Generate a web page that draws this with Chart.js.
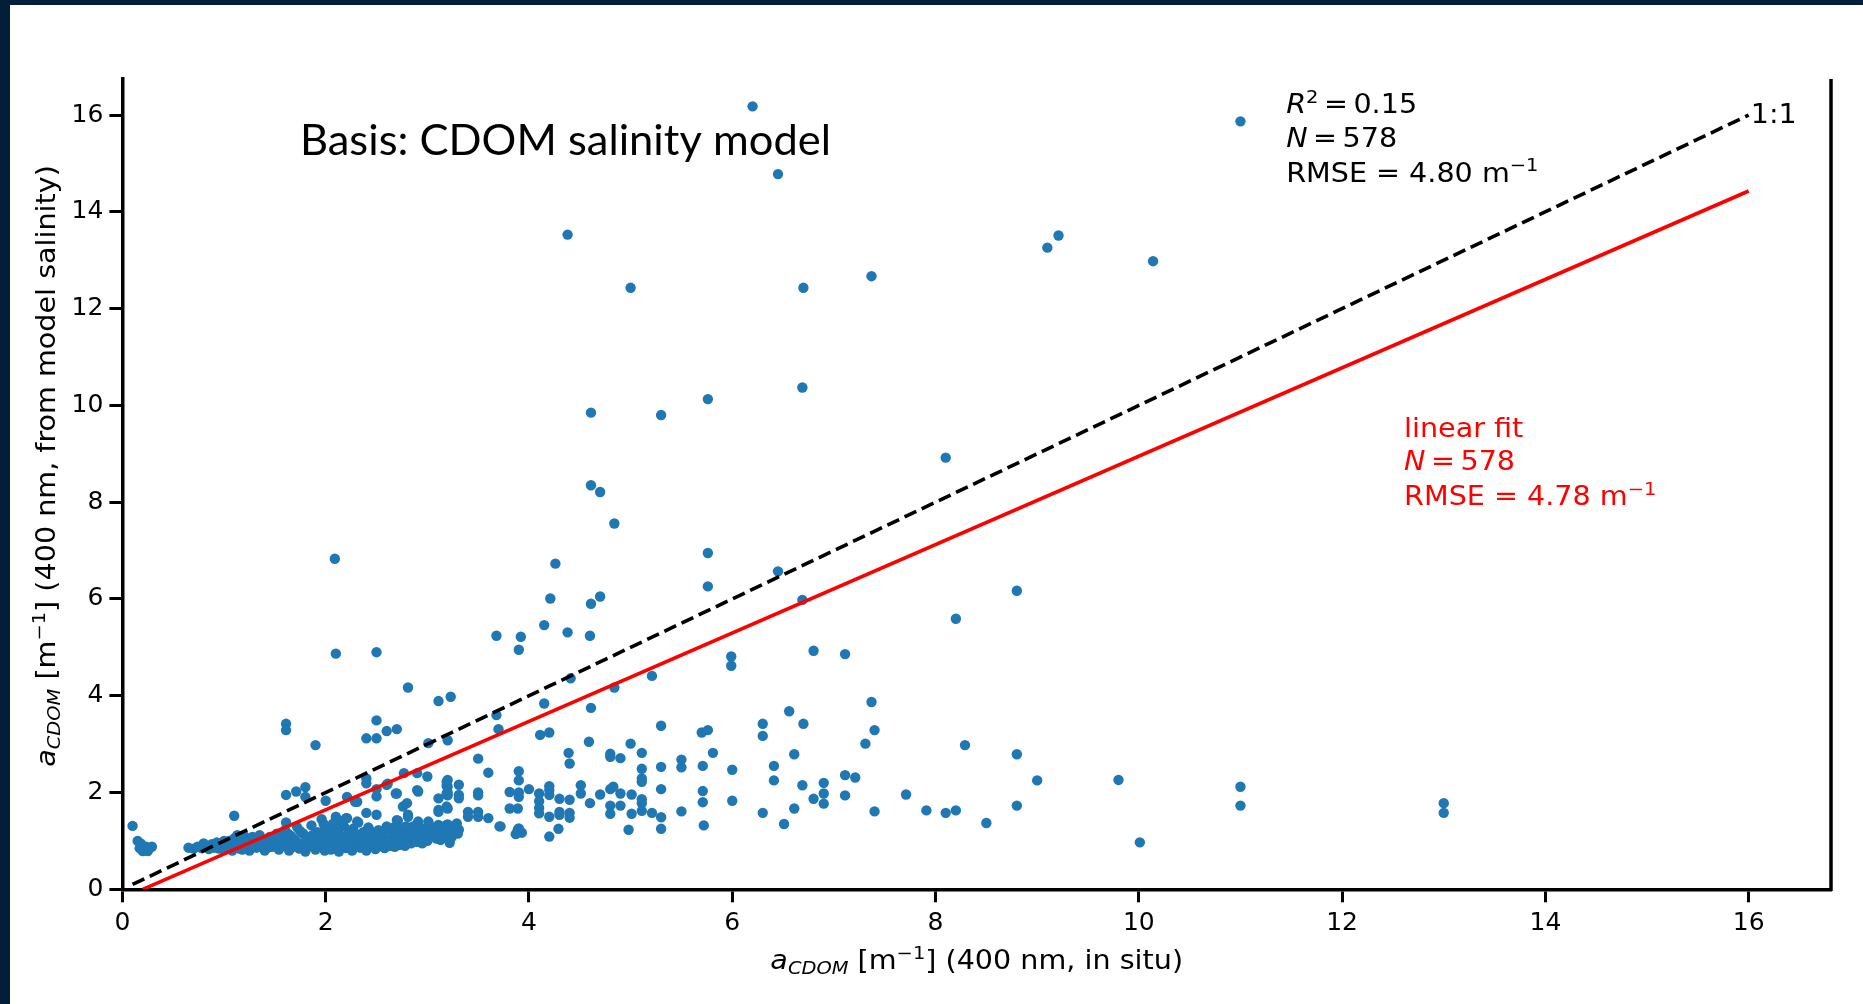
<!DOCTYPE html>
<html>
<head>
<meta charset="utf-8">
<title>CDOM salinity model</title>
<script src="https://cdn.jsdelivr.net/npm/chart.js@4.4.1/dist/chart.umd.min.js"></script>
<style>
  html, body { margin: 0; padding: 0; background: #021e38; }
  body { width: 1863px; height: 1004px; overflow: hidden; position: relative; }
  #wrap { position: absolute; left: 10px; top: 5px; width: 1853px; height: 999px; background: #fff; }
</style>
</head>
<body>
<div id="wrap"><canvas id="chart" width="1853" height="999"></canvas></div>
<script>
// axes
const X_TICKS = [0, 2, 4, 6, 8, 10, 12, 14, 16];
const Y_TICKS = [0, 2, 4, 6, 8, 10, 12, 14, 16];
const X_RANGE = [0, 16.81];
const Y_RANGE = [0, 16.745];

// [in situ, from model salinity]
const upperPoints = [
  [6.2, 16.18], [11.0, 15.87], [6.45, 14.78], [4.38, 13.53], [9.21, 13.51], [9.1, 13.26],
  [10.14, 12.98], [5.0, 12.43], [6.7, 12.43], [7.37, 12.67], [6.69, 10.37], [5.76, 10.13],
  [4.61, 9.85], [5.3, 9.8], [8.1, 8.92], [4.61, 8.35], [4.7, 8.21], [4.84, 7.56]
];
const midPoints = [
  [2.09, 6.83], [5.76, 6.95], [4.26, 6.73], [6.45, 6.57], [5.76, 6.26], [8.8, 6.17],
  [4.21, 6.01], [4.7, 6.05], [4.61, 5.9], [6.69, 5.98], [8.2, 5.59], [4.15, 5.46],
  [3.68, 5.24], [3.92, 5.22], [4.38, 5.31], [4.6, 5.24], [3.9, 4.95], [6.8, 4.93],
  [7.11, 4.86], [5.99, 4.81], [5.99, 4.62], [2.1, 4.87], [2.5, 4.9], [5.21, 4.41],
  [4.41, 4.36], [4.84, 4.17], [2.81, 4.17], [3.11, 3.89], [3.23, 3.98], [4.15, 3.84],
  [4.61, 3.75], [7.37, 3.87], [6.56, 3.68], [3.68, 3.6], [3.7, 3.31]
];
const lowPoints = [
  [1.61, 3.42], [1.61, 3.29], [1.9, 2.98], [2.5, 3.49], [2.4, 3.12], [2.5, 3.12], [2.6, 3.27],
  [2.7, 3.31], [3.01, 3.02], [3.2, 3.08], [4.11, 3.19], [4.2, 3.24], [4.59, 3.05], [5.0, 3.01],
  [5.3, 3.38], [5.7, 3.24], [5.76, 3.29], [6.3, 3.42], [6.7, 3.42], [6.3, 3.17], [7.4, 3.29],
  [7.31, 3.01], [8.29, 2.98], [4.39, 2.82], [4.4, 2.6], [4.8, 2.8], [4.8, 2.74], [4.9, 2.71],
  [5.11, 2.82], [5.5, 2.68], [5.5, 2.52], [5.81, 2.82], [5.71, 2.55], [5.3, 2.53], [5.11, 2.49],
  [6.0, 2.47], [6.41, 2.55], [6.61, 2.79], [8.8, 2.79], [3.5, 2.7], [3.6, 2.41], [3.9, 2.44],
  [3.9, 2.25], [6.41, 2.25], [5.11, 2.29], [5.11, 2.22], [7.11, 2.36], [7.21, 2.31], [9.0, 2.25],
  [9.8, 2.26], [11.0, 2.12], [3.81, 2.01], [3.9, 2.0], [3.9, 1.91], [4.0, 2.07], [4.1, 1.98],
  [4.1, 1.82], [4.1, 1.68], [4.1, 1.57], [4.2, 2.13], [4.2, 2.05], [4.2, 1.95], [4.2, 1.5],
  [4.3, 1.87], [4.4, 1.85], [4.3, 1.6], [4.3, 1.54], [4.4, 1.58], [4.4, 1.48], [4.51, 2.15],
  [4.51, 1.98], [4.6, 1.78], [4.7, 1.96], [4.8, 2.07], [4.83, 2.12], [4.9, 1.98], [4.8, 1.73],
  [4.8, 1.56], [4.9, 1.73], [5.01, 1.96], [5.01, 1.56], [5.11, 1.86], [5.11, 1.78], [5.11, 1.62],
  [5.21, 1.58], [5.3, 2.07], [5.3, 1.49], [5.3, 1.25], [4.98, 1.23], [5.5, 1.61], [5.71, 2.03],
  [5.71, 1.8], [5.72, 1.32], [6.0, 1.83], [6.3, 1.58], [6.51, 1.35], [6.61, 1.67], [6.69, 2.15],
  [6.8, 1.87], [6.9, 2.2], [6.9, 1.98], [6.9, 1.77], [7.11, 1.94], [7.4, 1.61], [7.71, 1.96],
  [7.91, 1.63], [8.1, 1.58], [8.2, 1.63], [8.5, 1.37], [8.8, 1.73], [10.01, 0.97], [11.0, 1.73],
  [13.0, 1.78], [13.0, 1.58], [3.72, 1.3], [3.87, 1.14], [3.93, 1.17], [3.9, 1.26], [4.2, 1.09],
  [4.29, 1.25], [3.81, 1.67], [3.89, 1.23], [3.89, 1.67]
];
const clusterEdgePoints = [
  [3.5, 2.0], [3.5, 1.94], [3.2, 2.26], [3.2, 2.12], [3.2, 2.0], [3.2, 1.94], [3.31, 2.16],
  [3.31, 1.95], [3.31, 1.88], [3.11, 1.88], [3.11, 1.6], [3.2, 1.67], [3.2, 1.34], [3.2, 1.23],
  [3.11, 1.33], [3.29, 1.36], [3.31, 1.23], [3.4, 1.6], [3.4, 1.5], [3.5, 1.6], [3.5, 1.5],
  [3.6, 1.47], [3.71, 1.3], [3.22, 0.96], [2.81, 1.54], [2.91, 2.02], [2.76, 1.71], [2.8, 1.78],
  [2.71, 1.42], [2.91, 1.4], [3.01, 1.4], [3.01, 1.17], [2.6, 2.16], [2.5, 2.07], [2.5, 1.92],
  [2.4, 2.29], [2.4, 2.19], [2.69, 1.98], [2.21, 1.91], [2.31, 1.81], [2.0, 1.83], [2.4, 1.58],
  [2.5, 1.54], [2.1, 1.5], [2.21, 1.47], [2.31, 1.4], [1.61, 1.95], [1.71, 2.02], [1.8, 2.11],
  [1.8, 1.91], [1.61, 1.38], [1.1, 1.52], [2.77, 2.4], [2.9, 2.4], [2.9, 2.05], [3.0, 2.33],
  [2.61, 2.18], [2.7, 1.98], [3.19, 2.22], [3.19, 2.14], [3.19, 1.98], [2.29, 1.81], [2.1, 1.43],
  [2.2, 1.47], [2.7, 1.43], [2.81, 1.5], [3.11, 1.64], [3.19, 1.71], [3.19, 1.33], [3.09, 1.05],
  [2.57, 0.88]
];
const nearZeroPoints = [
  [0.1, 1.31], [0.15, 1.0], [0.18, 0.95], [0.2, 0.79], [0.23, 0.88], [0.29, 0.88], [0.25, 0.79],
  [0.17, 0.85]
];
const bandPoints = [
  [0.65, 0.86], [0.7, 0.84], [0.74, 0.88], [0.78, 0.85], [0.82, 0.9], [0.85, 0.83], [0.88, 0.93],
  [0.9, 0.86], [0.93, 0.97], [0.95, 0.84], [0.98, 0.91], [1.0, 1.0], [1.0, 0.82], [0.8, 0.95],
  [0.96, 0.89], [1.03, 0.88], [1.06, 0.95], [1.08, 0.8], [1.1, 1.05], [1.12, 0.9], [1.15, 0.84],
  [1.17, 0.98], [1.2, 1.1], [1.22, 0.88], [1.25, 0.8], [1.27, 0.95], [1.3, 1.03], [1.32, 0.86],
  [1.35, 1.12], [1.37, 0.92], [1.4, 0.8], [1.42, 1.0], [1.45, 1.08], [1.47, 0.88], [1.5, 0.95],
  [1.05, 1.0], [1.13, 1.12], [1.18, 0.82], [1.23, 0.98], [1.28, 1.08], [1.33, 0.93], [1.43, 0.86],
  [1.48, 1.02], [1.52, 1.15], [1.54, 0.82], [1.56, 1.02], [1.58, 0.9], [1.6, 1.22], [1.62, 0.97],
  [1.64, 0.8], [1.66, 1.1], [1.68, 0.88], [1.7, 1.02], [1.72, 1.28], [1.74, 0.84], [1.76, 0.95],
  [1.78, 1.15], [1.8, 0.78], [1.82, 1.05], [1.84, 0.9], [1.86, 1.32], [1.88, 1.0], [1.9, 0.82],
  [1.92, 1.18], [1.94, 0.92], [1.96, 1.45], [1.97, 1.08], [1.99, 0.8], [2.0, 1.25], [1.55, 1.08],
  [1.63, 1.15], [1.69, 0.94], [1.75, 1.2], [1.81, 0.86], [1.87, 1.12], [1.93, 1.02], [1.98, 1.35],
  [2.02, 0.95], [2.04, 1.12], [2.05, 0.82], [2.07, 1.35], [2.08, 1.02], [2.1, 0.9], [2.12, 1.2],
  [2.13, 0.78], [2.15, 1.08], [2.17, 0.96], [2.18, 1.3], [2.2, 0.85], [2.22, 1.15], [2.24, 1.0],
  [2.26, 0.8], [2.27, 1.25], [2.29, 0.92], [2.3, 1.1], [2.32, 1.38], [2.34, 0.86], [2.35, 1.02],
  [2.37, 1.18], [2.39, 0.95], [2.4, 0.8], [2.42, 1.28], [2.44, 1.08], [2.45, 0.9], [2.47, 1.15],
  [2.49, 0.83], [2.5, 1.0], [2.03, 1.2], [2.09, 0.86], [2.14, 1.4], [2.19, 1.05], [2.23, 0.9],
  [2.28, 1.18], [2.33, 1.05], [2.38, 0.88], [2.43, 1.22], [2.48, 0.95], [2.52, 1.22], [2.54, 0.92],
  [2.56, 1.1], [2.58, 0.85], [2.6, 1.3], [2.62, 1.02], [2.64, 0.95], [2.66, 1.18], [2.68, 0.88],
  [2.7, 1.08], [2.72, 1.25], [2.74, 0.98], [2.76, 1.12], [2.78, 0.9], [2.8, 1.2], [2.82, 1.05],
  [2.84, 0.95], [2.86, 1.3], [2.88, 1.1], [2.9, 0.98], [2.92, 1.18], [2.94, 1.05], [2.96, 1.25],
  [2.98, 1.12], [2.53, 1.05], [2.57, 1.18], [2.63, 0.9], [2.67, 1.28], [2.73, 0.92], [2.79, 1.3],
  [2.83, 1.15], [2.89, 1.22], [2.95, 0.95], [3.0, 1.0], [3.03, 1.2], [3.06, 1.1], [3.08, 1.28],
  [3.1, 1.15], [3.13, 1.02], [3.15, 1.22], [3.18, 1.12], [3.21, 1.3], [3.24, 1.08], [3.27, 1.2],
  [3.3, 1.15], [3.02, 1.32], [3.12, 1.25], [3.2, 1.05]
];

// reference lines
const oneToOneLine = [[0.1, 0.1], [16, 16]];
const linearFitLine = [[0.2, 0.0], [16, 14.43]];

const BLUE = '#1f77b4';
const RED = '#ff0000';
const FONT = "'DejaVu Sans'";

const toXY = arr => arr.map(([x, y]) => ({ x, y }));
const allPoints = [].concat(upperPoints, midPoints, lowPoints, clusterEdgePoints, nearZeroPoints, bandPoints);

// mixed italic / sub / sup text, stretched a bit wider like the pasted figure
function drawRich(ctx, parts, x, y, opts) {
  const size = opts.size || 26;
  const stretch = opts.stretch || 1.1;
  const fontFor = p => `${p.i ? 'italic ' : ''}${p.sub || p.sup ? size * 0.68 : size}px ${FONT}`;
  let w = 0;
  parts.forEach(p => { ctx.font = fontFor(p); w += ctx.measureText(p.t).width + (p.gap || 0); });
  ctx.save();
  ctx.translate(x, y);
  if (opts.rotate) ctx.rotate(opts.rotate);
  ctx.scale(stretch, 1);
  ctx.fillStyle = opts.color || '#000';
  ctx.textAlign = 'left';
  ctx.textBaseline = 'alphabetic';
  let cx = opts.align === 'center' ? -w / 2 : 0;
  parts.forEach(p => {
    ctx.font = fontFor(p);
    const dy = p.sub ? size * 0.17 : p.sup ? -size * 0.4 : 0;
    ctx.fillText(p.t, cx, dy);
    cx += ctx.measureText(p.t).width + (p.gap || 0);
  });
  ctx.restore();
}

const textLayer = {
  id: 'textLayer',
  afterDraw(chart) {
    const { ctx, chartArea: area } = chart;
    const sx = chart.scales.x, sy = chart.scales.y;
    const px = v => sx.getPixelForValue(v);
    const py = v => sy.getPixelForValue(v);

    // right spine
    ctx.save();
    ctx.strokeStyle = '#000';
    ctx.lineWidth = 3.5;
    ctx.beginPath();
    ctx.moveTo(area.right, area.top);
    ctx.lineTo(area.right, area.bottom + 1.75);
    ctx.stroke();
    ctx.restore();

    // slide title
    ctx.save();
    ctx.font = "42px Lato";
    const tw = ctx.measureText('Basis: CDOM salinity model').width;
    ctx.translate(px(1.747), py(15.175));
    ctx.scale(531 / tw, 1);
    ctx.fillStyle = '#000';
    ctx.textBaseline = 'alphabetic';
    ctx.fillText('Basis: CDOM salinity model', 0, 0);
    ctx.restore();

    // stats, black
    drawRich(ctx, [{ t: 'R', i: true }, { t: '2', sup: true, gap: 5 }, { t: '=', gap: 5 }, { t: '0.15' }],
      px(11.45), py(16.04), {});
    drawRich(ctx, [{ t: 'N', i: true, gap: 5 }, { t: '=', gap: 5 }, { t: '578' }], px(11.45), py(15.33), {});
    drawRich(ctx, [{ t: 'RMSE = 4.80 m' }, { t: '\u22121', sup: true }], px(11.45), py(14.62), {});

    // stats, red
    drawRich(ctx, [{ t: 'linear fit' }], px(12.61), py(9.34), { color: RED });
    drawRich(ctx, [{ t: 'N', i: true, gap: 5 }, { t: '=', gap: 5 }, { t: '578' }], px(12.61), py(8.66), { color: RED });
    drawRich(ctx, [{ t: 'RMSE = 4.78 m' }, { t: '\u22121', sup: true }], px(12.61), py(7.94), { color: RED });

    // 1:1 label
    drawRich(ctx, [{ t: '1:1' }], px(16.02), py(15.83), {});

    // axis titles
    drawRich(ctx, [{ t: 'a', i: true }, { t: 'CDOM', i: true, sub: true }, { t: ' [m' }, { t: '\u22121', sup: true },
      { t: '] (400 nm, in situ)' }], (area.left + area.right) / 2, area.bottom + 80, { align: 'center' });
    drawRich(ctx, [{ t: 'a', i: true }, { t: 'CDOM', i: true, sub: true }, { t: ' [m' }, { t: '\u22121', sup: true },
      { t: '] (400 nm, from model salinity)' }], area.left - 67, area.top + 387,
      { align: 'center', rotate: -Math.PI / 2 });
  }
};

const axisCommon = {
  type: 'linear',
  grid: { display: true, drawOnChartArea: false, drawTicks: true, tickLength: 13, tickWidth: 3, tickColor: '#000' },
  border: { display: true, width: 3.5, color: '#000' },
  ticks: { color: '#000', font: { family: FONT, size: 25 }, padding: 6, includeBounds: false, autoSkip: false }
};

new Chart(document.getElementById('chart'), {
  type: 'scatter',
  data: {
    datasets: [
      {
        label: '1:1',
        data: toXY(oneToOneLine),
        showLine: true,
        borderColor: '#000',
        borderWidth: 3.6,
        borderDash: [13, 6],
        pointRadius: 0,
        fill: false
      },
      {
        label: 'linear fit',
        data: toXY(linearFitLine),
        showLine: true,
        borderColor: RED,
        borderWidth: 3.6,
        pointRadius: 0,
        fill: false
      },
      {
        label: 'samples',
        data: toXY(allPoints),
        backgroundColor: BLUE,
        borderWidth: 0,
        pointRadius: 5.2,
        pointHoverRadius: 5.2
      }
    ]
  },
  options: {
    responsive: false,
    animation: false,
    devicePixelRatio: 1,
    layout: { padding: { left: 0, top: 74, right: 32, bottom: 54.7 } },
    plugins: { legend: { display: false }, tooltip: { enabled: false } },
    scales: {
      x: {
        ...axisCommon,
        min: X_RANGE[0], max: X_RANGE[1],
        afterBuildTicks: s => { s.ticks = X_TICKS.map(v => ({ value: v })); },
        afterFit: s => { s.height = 60; }
      },
      y: {
        ...axisCommon,
        min: Y_RANGE[0], max: Y_RANGE[1],
        afterBuildTicks: s => { s.ticks = Y_TICKS.map(v => ({ value: v })); },
        afterFit: s => { s.width = 112.4; }
      }
    }
  },
  plugins: [textLayer]
});
</script>
</body>
</html>
